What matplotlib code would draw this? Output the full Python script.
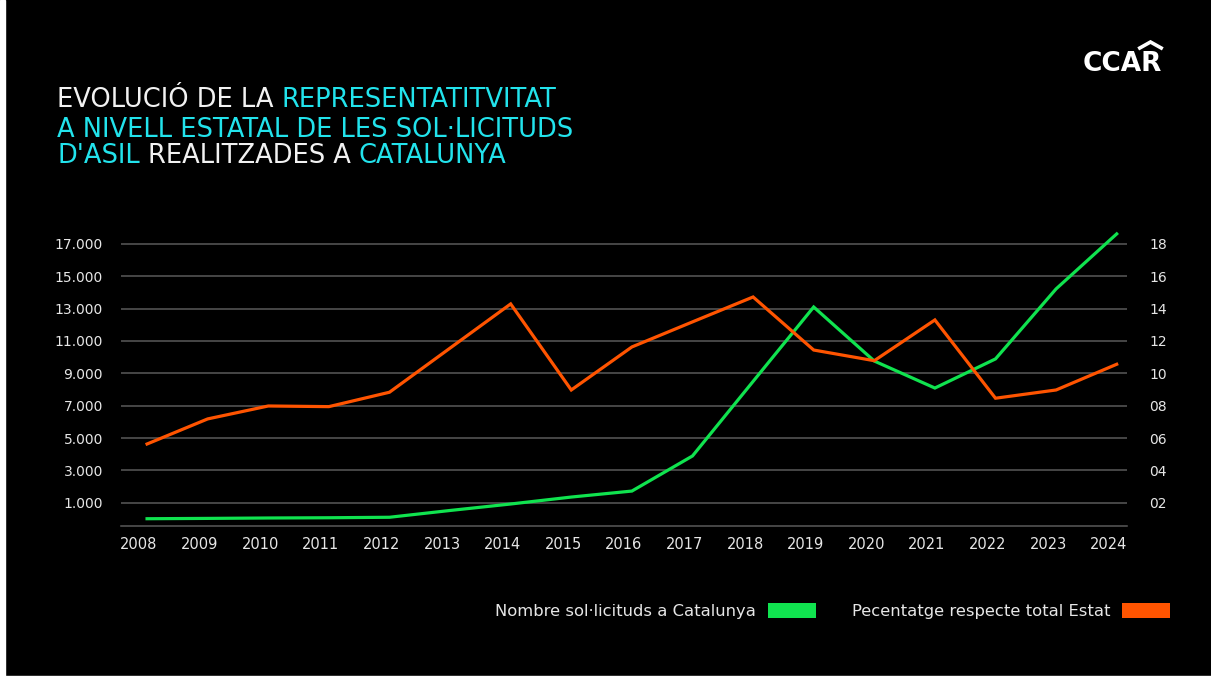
import matplotlib
matplotlib.use('Agg')
from matplotlib import pyplot as plt
from matplotlib.patches import Patch, Rectangle
from matplotlib.lines import Line2D
import matplotlib.transforms as mtransforms

# sol·licituds d'asil a Catalunya i pes sobre el total de l'Estat (%)
years = list(range(2008, 2025))
sollicituds = [10, 30, 55, 70, 100, 520, 920, 1350, 1720, 3890, 8500,
               13100, 9760, 8090, 9890, 14220, 17620]
percentatge = [5.63, 7.18, 7.98, 7.94, 8.83, 11.56, 14.29, 8.97, 11.63,
               13.18, 14.72, 11.44, 10.78, 13.30, 8.46, 8.97, 10.56]

left_ticks = list(range(1000, 18000, 2000))
right_ticks = list(range(2, 19, 2))
left_labels = [f"{v:,}".replace(",", ".") for v in left_ticks]
right_labels = [f"{v:02d}" for v in right_ticks]

legend_labels = ["Nombre sol·licituds a Catalunya",
                 "Pecentatge respecte total Estat"]

title_lines = [
    [("EVOLUCIÓ DE LA", "w"), ("REPRESENTATITVITAT", "c")],
    [("A NIVELL ESTATAL DE LES SOL·LICITUDS", "c")],
    [("D'ASIL", "c"), ("REALITZADES A", "w"), ("CATALUNYA", "c")],
]

GREEN = "#10e34f"
ORANGE = "#ff5400"
CYAN = "#22e3ec"
WHITE = "#f2f2f2"
TXT = "#e6e6e6"
GRID = "#5a5a5a"

plt.rcParams['font.family'] = ['DejaVu Sans']

W, H = 1211, 679
fig = plt.figure(figsize=(W / 100, H / 100), dpi=100, facecolor='black')
renderer = fig.canvas.get_renderer()

# thin white strip on the left and bottom edges
fig.patches.append(Rectangle((0, 0), 5 / W, 1, transform=fig.transFigure,
                             color='white', zorder=0))
fig.patches.append(Rectangle((0, 0), 1, 3 / H, transform=fig.transFigure,
                             color='white', zorder=0))

ax = fig.add_axes([121 / W, (H - 526) / H, (1127 - 121) / W, (526 - 225) / H])
ax.set_facecolor('black')
ax2 = ax.twinx()

ax.plot(years, sollicituds, color=GREEN, lw=2.3, solid_joinstyle='miter')
ax2.plot(years, percentatge, color=ORANGE, lw=2.3, solid_joinstyle='miter')

ax.set_xlim(2007.57, 2024.17)
ax.set_ylim(-440, 18170)
ax2.set_ylim(0.56, 19.17)

ax.set_xticks(years)
ax.set_xticklabels([str(y) for y in years])
ax.set_yticks(left_ticks)
ax.set_yticklabels(left_labels)
ax2.set_yticks(right_ticks)
ax2.set_yticklabels(right_labels)

ax.yaxis.grid(True, color=GRID, lw=1.1)
ax.set_axisbelow(True)
for name, sp in ax.spines.items():
    sp.set_visible(name == 'bottom')
ax.spines['bottom'].set_color(GRID)
ax.spines['bottom'].set_linewidth(1.1)
for sp in ax2.spines.values():
    sp.set_visible(False)

ax.tick_params(axis='y', length=0, pad=13, labelsize=10, labelcolor=TXT)
ax.tick_params(axis='x', length=0, pad=8, labelsize=10.5, labelcolor=TXT)
ax2.tick_params(axis='y', length=0, pad=16, labelsize=10, labelcolor=TXT)

# year labels sit a little to the left of the line vertices
shift = mtransforms.ScaledTranslation(-8 / 100, 0, fig.dpi_scale_trans)
for tick in ax.xaxis.get_major_ticks():
    tick.label1.set_transform(tick.label1.get_transform() + shift)

# legend: label first, colour box after it
handles = [Patch(facecolor=GREEN, lw=0), Patch(facecolor=ORANGE, lw=0)]
fig.legend(handles, legend_labels, loc='center right',
           bbox_to_anchor=(1170 / W, 1 - 611 / H), ncol=2, markerfirst=False,
           frameon=False, fontsize=11.8, labelcolor=TXT, handlelength=2.9,
           handleheight=1.0, handletextpad=0.75, columnspacing=2.2,
           borderpad=0, borderaxespad=0)

# title, two colours per line
px = mtransforms.IdentityTransform()
title_size = 18.5
space = 0.318 * title_size * 100 / 72
for segs, base in zip(title_lines, [107, 137, 163]):
    x = 57
    for txt, col in segs:
        t = fig.text(x, H - base, txt, transform=px, fontsize=title_size,
                     color=CYAN if col == "c" else WHITE, va='baseline')
        x += t.get_window_extent(renderer).width + space

# logo
logo = fig.text(1162, H - 71, "CCAR", transform=px, fontsize=19,
                fontweight='bold', color='white', ha='right', va='baseline')
bb = logo.get_window_extent(renderer)
x0 = bb.x0 + 0.72 * bb.width
x1 = bb.x0 + 0.99 * bb.width
ytop = bb.y1 + 9
fig.add_artist(Line2D([x0, (x0 + x1) / 2, x1], [ytop - 6, ytop, ytop - 6],
                      transform=px, color='white', lw=2.6,
                      solid_joinstyle='miter'))

fig.savefig("out.png", dpi=100, facecolor=fig.get_facecolor())
